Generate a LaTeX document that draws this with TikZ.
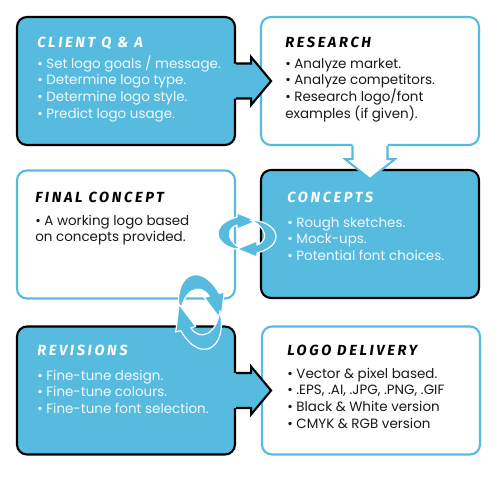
\documentclass[tikz,border=0pt]{standalone}
\usepackage{fontspec}
\setmainfont{Poppins}
\newfontfamily\titlefont[LetterSpace=18]{Fira Sans}
\usetikzlibrary{calc}
\definecolor{cblue}{RGB}{86,187,222}
\definecolor{ctext}{RGB}{25,25,25}
\definecolor{wtext}{RGB}{242,249,252}
\tikzset{
  box/.style={rounded corners=7.5pt, minimum width=163.5pt, minimum height=96pt, inner sep=0pt, line width=1.6pt},
  bluebox/.style={box, fill=cblue, draw=black},
  whitebox/.style={box, fill=white, draw=cblue},
  ttl/.style={font=\titlefont\bfseries\itshape\fontsize{11}{12}\selectfont, anchor=base west, inner sep=0pt},
  ttlw/.style={ttl, text=white},
  ttlb/.style={ttl, text=black},
  body/.style={font=\fontsize{10.1}{12}\selectfont, anchor=base west, inner sep=0pt},
  bodyw/.style={body, text=wtext},
  bodyb/.style={body, text=ctext},
  swoosh/.pic={
    \filldraw[fill=cblue, draw=white, line width=0.9pt, line join=round]
      (-3,15) .. controls (-32,14) and (-40,-10) .. (-10,-18) -- (-10,-22) -- (10,-14)
      -- (-10,-6) -- (-10,-10) .. controls (-22,-6) and (-20,8) .. (-3,15) -- cycle;
  }
}
\begin{document}
\begin{tikzpicture}[x=0.75pt,y=-0.75pt]
\useasboundingbox (0,0) rectangle (504,486);
% boxes
\node[bluebox]  (client)   at (126,81)  {};
\node[whitebox] (research) at (370,81)  {};
\node[whitebox] (final)    at (126,234.5) {};
\node[bluebox]  (concepts) at (370,234) {};
\node[bluebox]  (revisions) at (126,390.5) {};
\node[whitebox] (delivery) at (371,390.5) {};

% block arrows client -> research and revisions -> delivery
\foreach \src in {client,revisions}{
  \begin{scope}[shift={(\src.east)}]
    \fill[cblue] (-3,-17.5) -- (15,-17.5) -- (15,-24) -- (35,0) -- (15,24) -- (15,17.5) -- (-3,17.5) -- cycle;
    \draw[black, line width=1.6pt, line join=miter] (0,-17.5) -- (15,-17.5) -- (15,-24) -- (35,0) -- (15,24) -- (15,17.5) -- (0,17.5);
  \end{scope}
}
% research -> concepts
\begin{scope}[shift={(research.south)}]
  \fill[white] (-17.5,-3) -- (-17.5,13) -- (-25,13) -- (0,33) -- (25,13) -- (17.5,13) -- (17.5,-3) -- cycle;
  \draw[cblue, line width=1.6pt, line join=miter] (-17.5,0) -- (-17.5,13) -- (-25,13) -- (0,33) -- (25,13) -- (17.5,13) -- (17.5,0);
\end{scope}

% cycle arrows
\coordinate (cyc1) at (247,235);
\coordinate (cyc2) at (200,312);
\pic at (cyc1) {swoosh};
\pic[rotate=180] at (cyc1) {swoosh};
\pic[rotate=-75, scale=1.3] at (cyc2) {swoosh};
\pic[rotate=105, scale=1.3] at (cyc2) {swoosh};

% texts
\node[ttlw] (t1) at (37,47) {CLIENT Q \& A};
\foreach \t [count=\i from 0] in {{• Set logo goals / message.},{• Determine logo type.},{• Determine logo style.},{• Predict logo usage.}}
  \node[bodyw] (c\i) at (37,{68+16.7*\i}) {\t};

\node[ttlb] (t2) at (285,47) {RESEARCH};
\foreach \t [count=\i from 0] in {{• Analyze market.},{• Analyze competitors.},{• Research logo/font},{examples (if given).}}
  \node[bodyb] (r\i) at (285,{68+16.7*\i}) {\t};

\node[ttlb] (t3) at (35,202) {FINAL CONCEPT};
\foreach \t [count=\i from 0] in {{• A working logo based},{on concepts provided.}}
  \node[bodyb] (f\i) at (35,{225+16.7*\i}) {\t};

\node[ttlw] (t4) at (287,202) {CONCEPTS};
\foreach \t [count=\i from 0] in {{• Rough sketches.},{• Mock-ups.},{• Potential font choices.}}
  \node[bodyw] (k\i) at (287,{227+16.7*\i}) {\t};

\node[ttlw] (t5) at (37,355) {REVISIONS};
\foreach \t [count=\i from 0] in {{• Fine-tune design.},{• Fine-tune colours.},{• Fine-tune font selection.}}
  \node[bodyw] (v\i) at (37,{380+16.7*\i}) {\t};

\node[ttlb] (t6) at (287,355) {LOGO DELIVERY};
\foreach \t [count=\i from 0] in {{• Vector \& pixel based.},{• .EPS, .AI, .JPG, .PNG, .GIF},{• Black \& White version},{• CMYK \& RGB version}}
  \node[bodyb] (d\i) at (287,{378+16.7*\i}) {\t};
\end{tikzpicture}
\end{document}
